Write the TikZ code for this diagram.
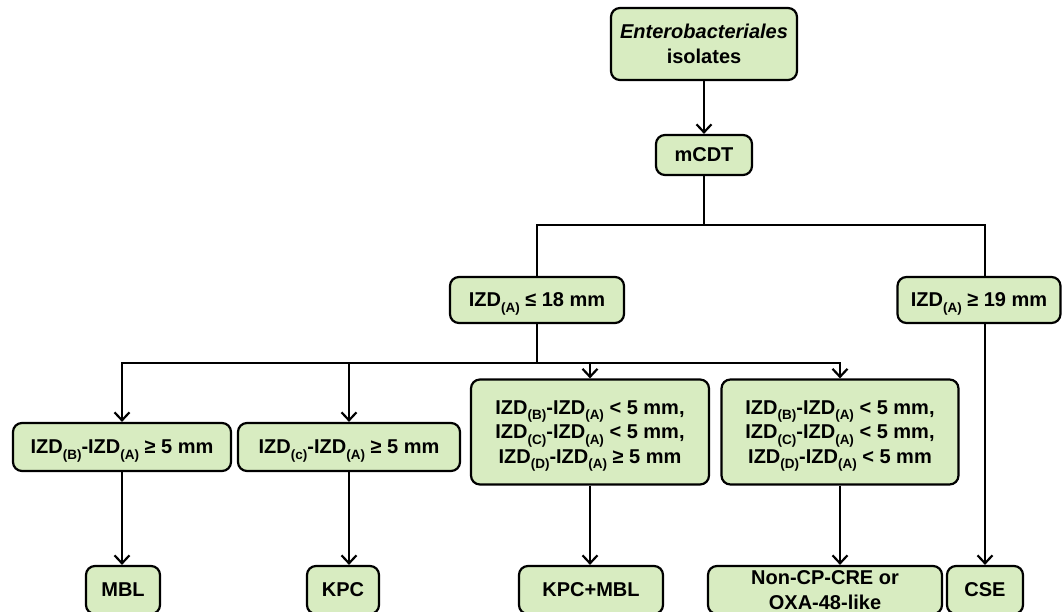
\documentclass[tikz,border=0pt]{standalone}
\usepackage{fontspec}
\setmainfont{Liberation Sans}
\usetikzlibrary{arrows.meta,calc}
\definecolor{boxfill}{RGB}{216,236,193}
\newcommand{\zsub}[1]{\raisebox{-0.28em}[0pt][0pt]{\fontsize{13.5}{13.5}\selectfont #1}}
\begin{document}
\begin{tikzpicture}[x=1pt,y=-1pt,
  box/.style={draw, line width=2.2pt, rounded corners=9pt, fill=boxfill, align=center,
    font=\bfseries\fontsize{20}{24.5}\selectfont, inner sep=0pt},
  conn/.style={line width=2.2pt, line cap=rect},
  arr/.style={line width=2.2pt, -{Straight Barb[length=8pt,width=15pt]}}]
\useasboundingbox (0,0) rectangle (1063,612);
\clip (0,0) rectangle (1063,612);
\node[box, minimum width=186pt, minimum height=72pt] (top) at (704,44) {\textit{Enterobacteriales}\\isolates};
\node[box, minimum width=96pt, minimum height=40pt] (mcdt) at (704,155) {mCDT};
\node[box, minimum width=174pt, minimum height=46pt] (le18) at (537,300) {IZD\zsub{(A)} ≤ 18 mm};
\node[box, minimum width=163pt, minimum height=46pt] (ge19) at (979,300) {IZD\zsub{(A)} ≥ 19 mm};
\node[box, minimum width=218pt, minimum height=48pt] (r1) at (122,447) {IZD\zsub{(B)}-IZD\zsub{(A)} ≥ 5 mm};
\node[box, minimum width=222pt, minimum height=48pt] (r2) at (349,447) {IZD\zsub{(c)}-IZD\zsub{(A)} ≥ 5 mm};
\node[box, minimum width=238pt, minimum height=105pt] (r3) at (590,432) {IZD\zsub{(B)}-IZD\zsub{(A)} < 5 mm,\\IZD\zsub{(C)}-IZD\zsub{(A)} < 5 mm,\\IZD\zsub{(D)}-IZD\zsub{(A)} ≥ 5 mm};
\node[box, minimum width=237pt, minimum height=105pt] (r4) at (840,432) {IZD\zsub{(B)}-IZD\zsub{(A)} < 5 mm,\\IZD\zsub{(C)}-IZD\zsub{(A)} < 5 mm,\\IZD\zsub{(D)}-IZD\zsub{(A)} < 5 mm};
\node[box, minimum width=74pt, minimum height=48pt] (mbl) at (123,590) {MBL};
\node[box, minimum width=72pt, minimum height=48pt] (kpc) at (343,590) {KPC};
\node[box, minimum width=144pt, minimum height=48pt] (kpcmbl) at (591,590) {KPC+MBL};
\node[box, minimum width=234pt, minimum height=48pt] (noncp) at (825,590) {Non-CP-CRE or\\OXA-48-like};
\node[box, minimum width=76pt, minimum height=48pt] (cse) at (985,590) {CSE};
% connectors
\coordinate (j1) at (704,225);
\coordinate (j19) at (985,225);
\coordinate (j2) at (537,363);
\draw[arr] (top) -- (mcdt);
\draw[conn] (mcdt.south) -- (j1);
\draw[conn] (le18.north) |- (j19) -- (j19 |- ge19.north);
\draw[conn] (le18.south) -- (j2);
\draw[conn] (r1.north |- j2) -- (r4.north |- j2);
\draw[arr] (r1.north |- j2) -- (r1.north);
\draw[arr] (r2.north |- j2) -- (r2.north);
\draw[arr] (r3.north |- j2) -- (r3.north);
\draw[arr] (r4.north |- j2) -- (r4.north);
\draw[arr] (r1.south) -- (r1.south |- mbl.north);
\draw[arr] (r2.south) -- (r2.south |- kpc.north);
\draw[arr] (r3.south) -- (r3.south |- kpcmbl.north);
\draw[arr] (r4.south) -- (r4.south |- noncp.north);
\draw[arr] (ge19.south -| j19) -- (j19 |- cse.north);
\end{tikzpicture}
\end{document}
